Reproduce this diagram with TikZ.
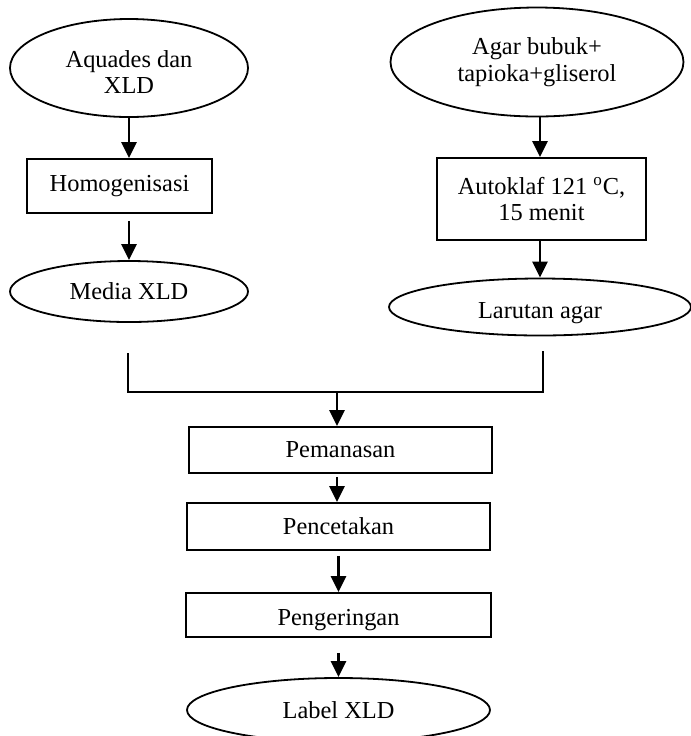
\documentclass[tikz,border=0pt]{standalone}
\usepackage{fontspec}
\setmainfont{Liberation Serif}
\usetikzlibrary{shapes.geometric,arrows.meta}
\newcommand{\lowertext}[2]{\raisebox{-#1}[\height][\depth]{#2}}
\begin{document}
\begin{tikzpicture}[x=0.5pt,y=-0.5pt,
  every node/.style={font=\fontsize{12.2}{13.2}\selectfont, align=center, inner sep=0pt, line width=0.9pt},
  oval/.style={draw, ellipse},
  boxnode/.style={draw, rectangle},
  arr/.style={-{Triangle[width=7.5pt,length=8pt]}, line width=1.3pt},
  joinline/.style={line width=0.9pt}]
\useasboundingbox (0,0) rectangle (691,736);
\fill[white] (0,0) rectangle (691,736);

% left column
\node[oval, minimum width=119pt, minimum height=49pt] (aq) at (129,68) {\lowertext{2pt}{Aquades dan}\\\lowertext{2pt}{XLD}};
\node[boxnode, minimum width=92.5pt, minimum height=27pt] (hom) at (119.5,186) {Homogenisasi};
\node[oval, minimum width=119pt, minimum height=30.5pt] (med) at (129,291.5) {Media XLD};

% right column
\node[oval, minimum width=146.5pt, minimum height=54.5pt] (agar) at (537,62) {Agar bubuk+\\tapioka+gliserol};
\node[boxnode, minimum width=104.5pt, minimum height=41pt] (auto) at (541.5,199) {Autoklaf 121 \textsuperscript{o}C,\\15 menit};
\node[oval, minimum width=151pt, minimum height=28.5pt] (lar) at (540,307) {\lowertext{3pt}{Larutan agar}};

% centre column
\node[boxnode, minimum width=151.5pt, minimum height=23pt] (pem) at (340.5,450) {Pemanasan};
\node[boxnode, minimum width=151.5pt, minimum height=23.5pt] (pen) at (338.5,526.5) {Pencetakan};
\node[boxnode, minimum width=152.5pt, minimum height=22pt] (peng) at (338.5,615) {\lowertext{2.5pt}{Pengeringan}};
\node[oval, minimum width=151.5pt, minimum height=32pt] (lab) at (338.5,710) {Label XLD};

% join
\coordinate (jl) at (128,353);
\coordinate (jr) at (543,351);
\coordinate (jm) at (337,392);

% arrows
\draw[arr] (aq.south) -- (aq.south |- hom.north);
\draw[arr, shorten <=3.5pt] (aq.south |- hom.south) -- (med.north);
\draw[arr] (agar.south -| 540,0) -- (auto.north -| 540,0);
\draw[arr] (auto.south -| 540,0) -- (lar.north);
\draw[joinline] (jl) -- (jl |- jm) -- (jr |- jm) -- (jr);
\draw[arr] (jm) -- (jm |- pem.north);
\draw[arr, shorten <=1.5pt] (jm |- pem.south) -- (jm |- pen.north);
\draw[arr, shorten <=2.5pt] (pen.south) -- (peng.north);
\draw[arr, shorten <=7.5pt] (peng.south) -- (lab.north);
\end{tikzpicture}
\end{document}
